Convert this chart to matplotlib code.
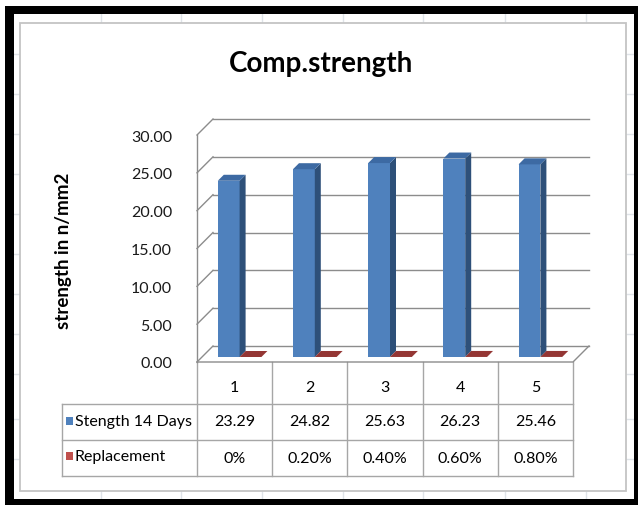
import matplotlib
matplotlib.use('Agg')
import matplotlib.pyplot as plt
from matplotlib.patches import Rectangle, Polygon

plt.rcParams['font.family'] = ['Lato', 'DejaVu Sans']

# data
categories = ['1', '2', '3', '4', '5']
strength_14d = [23.29, 24.82, 25.63, 26.23, 25.46]
replacement = [0.0, 0.002, 0.004, 0.006, 0.008]
replacement_labels = ['0%', '0.20%', '0.40%', '0.60%', '0.80%']
series_names = ['Stength 14 Days', 'Replacement']
yticks = [0, 5, 10, 15, 20, 25, 30]

W, H = 638, 506
fig = plt.figure(figsize=(W / 100, H / 100), dpi=100)

# background layer in pixel units (y grows downward)
bg = fig.add_axes([0, 0, 1, 1], zorder=0)
bg.set_xlim(0, W)
bg.set_ylim(H, 0)
bg.axis('off')

# faint sheet grid behind the chart
for gx in [101, 181, 262, 343, 423, 505, 586]:
    bg.plot([gx, gx], [0, H], color='#dfe3e8', lw=1, zorder=0.5)
for gy in [55, 95, 135, 175, 215, 255, 295, 335, 375, 420, 460]:
    bg.plot([0, W], [gy, gy], color='#dfe3e8', lw=1, zorder=0.5)

# black frame
bg.add_patch(Rectangle((0, 0), W, 7, fc='white', ec='none', zorder=0.8))
bg.add_patch(Rectangle((0, 0), 5, H, fc='white', ec='none', zorder=0.8))
bg.add_patch(Rectangle((5, 7), W - 5, 8, fc='black', ec='none', zorder=0.9))
bg.add_patch(Rectangle((5, 7), 9, H - 7, fc='black', ec='none', zorder=0.9))
bg.add_patch(Rectangle((634, 7), 4, H - 7, fc='black', ec='none', zorder=0.9))
bg.add_patch(Rectangle((5, 500), W - 5, 6, fc='black', ec='none', zorder=0.9))

# chart area
bg.add_patch(Rectangle((20, 24), 606, 468, fc='white', ec='#c4c4c4', lw=1.3, zorder=1))

bg.text(321, 64, 'Comp.strength', ha='center', va='center',
        fontsize=20, fontweight='bold', color='black', zorder=3)
bg.text(63, 251, 'strength in n/mm2', ha='center', va='center', rotation=90,
        fontsize=13.5, fontweight='bold', color='black', zorder=3)

# plot area: front plane of the 3-D box
ax = fig.add_axes([197 / W, (H - 363) / H, 376 / W, 227 / H], zorder=1)
ax.set_xlim(0.5, 5.5)
ax.set_ylim(0, 30)
ax.patch.set_visible(False)
for s in ax.spines.values():
    s.set_visible(False)
ax.set_xticks([])
ax.set_yticks(yticks)
ax.set_yticklabels(['%.2f' % v for v in yticks])
ax.tick_params(axis='y', length=0, pad=18, labelsize=11.5, labelcolor='#1a1a1a')


def shift(x, y, px):
    # move a data point back into the depth of the box by px pixels
    dx, dy = ax.transData.transform((x, y))
    return ax.transData.inverted().transform((dx + px, dy + px))


depth = 16
grid_kw = dict(color='#8c8c8c', lw=1, clip_on=False, zorder=1)
for v in yticks:
    b0 = shift(0.5, v, depth)
    b1 = shift(5.5, v, depth)
    ax.plot([0.5, b0[0]], [v, b0[1]], **grid_kw)
    ax.plot([b0[0], b1[0]], [b0[1], b1[1]], **grid_kw)
f = shift(5.5, 0, depth)
ax.plot([0.5, 5.5, f[0]], [0, 0, f[1]], **grid_kw)
ax.plot([0.5, 0.5], [0, 30], **grid_kw)

# bars drawn as front face + side + top
bar_w = 0.29
off = 5
bar_d = 6
styles = [
    ('#4F81BD', '#2E5079', '#3D6AA3'),
    ('#C0504D', '#7A2B29', '#943634'),
]
xs = list(range(1, len(categories) + 1))
for si, values in enumerate([strength_14d, replacement]):
    front, side, top = styles[si]
    for x, h in zip(xs, values):
        xl = x - bar_w if si == 0 else x
        xr = xl + bar_w
        p0 = shift(xl, 0, off)
        p1 = shift(xr, h, off)
        ax.add_patch(Rectangle(p0, p1[0] - p0[0], p1[1] - p0[1],
                               fc=front, ec='none', zorder=3, clip_on=False))
        ax.add_patch(Polygon([shift(xr, 0, off), shift(xr, h, off),
                              shift(xr, h, off + bar_d), shift(xr, 0, off + bar_d)],
                             closed=True, fc=side, ec='none', zorder=3, clip_on=False))
        ax.add_patch(Polygon([shift(xl, h, off), shift(xr, h, off),
                              shift(xr, h, off + bar_d), shift(xl, h, off + bar_d)],
                             closed=True, fc=top, ec='none', zorder=3, clip_on=False))

# data table under the plot
edges = [0.5 + i for i in range(len(categories) + 1)]
col_px = [ax.transData.transform((e, 0))[0] for e in edges]
tbl_kw = dict(color='#a6a6a6', lw=1, zorder=2)
row_y = [405, 441, 477]
for cx in col_px:
    bg.plot([cx, cx], [363, row_y[-1]], **tbl_kw)
bg.plot([62, 62], [row_y[0], row_y[-1]], **tbl_kw)
for ry in row_y:
    bg.plot([62, col_px[-1]], [ry, ry], **tbl_kw)

centers = [(col_px[i] + col_px[i + 1]) / 2 for i in range(len(categories))]
txt_kw = dict(ha='center', va='center', fontsize=11.5, color='black', zorder=3)
for cx, lab in zip(centers, categories):
    bg.text(cx, 388, lab, **txt_kw)
for cx, v in zip(centers, strength_14d):
    bg.text(cx, 422, '%.2f' % v, **txt_kw)
for cx, lab in zip(centers, replacement_labels):
    bg.text(cx, 459, lab, **txt_kw)

for name, (front, _, _), ry in zip(series_names, styles, [422, 457]):
    bg.add_patch(Rectangle((66, ry - 4), 7, 8, fc=front, ec='none', zorder=3))
    bg.text(75, ry, name, ha='left', va='center', fontsize=11.5, color='black', zorder=3)

fig.savefig('out.png', dpi=100)
